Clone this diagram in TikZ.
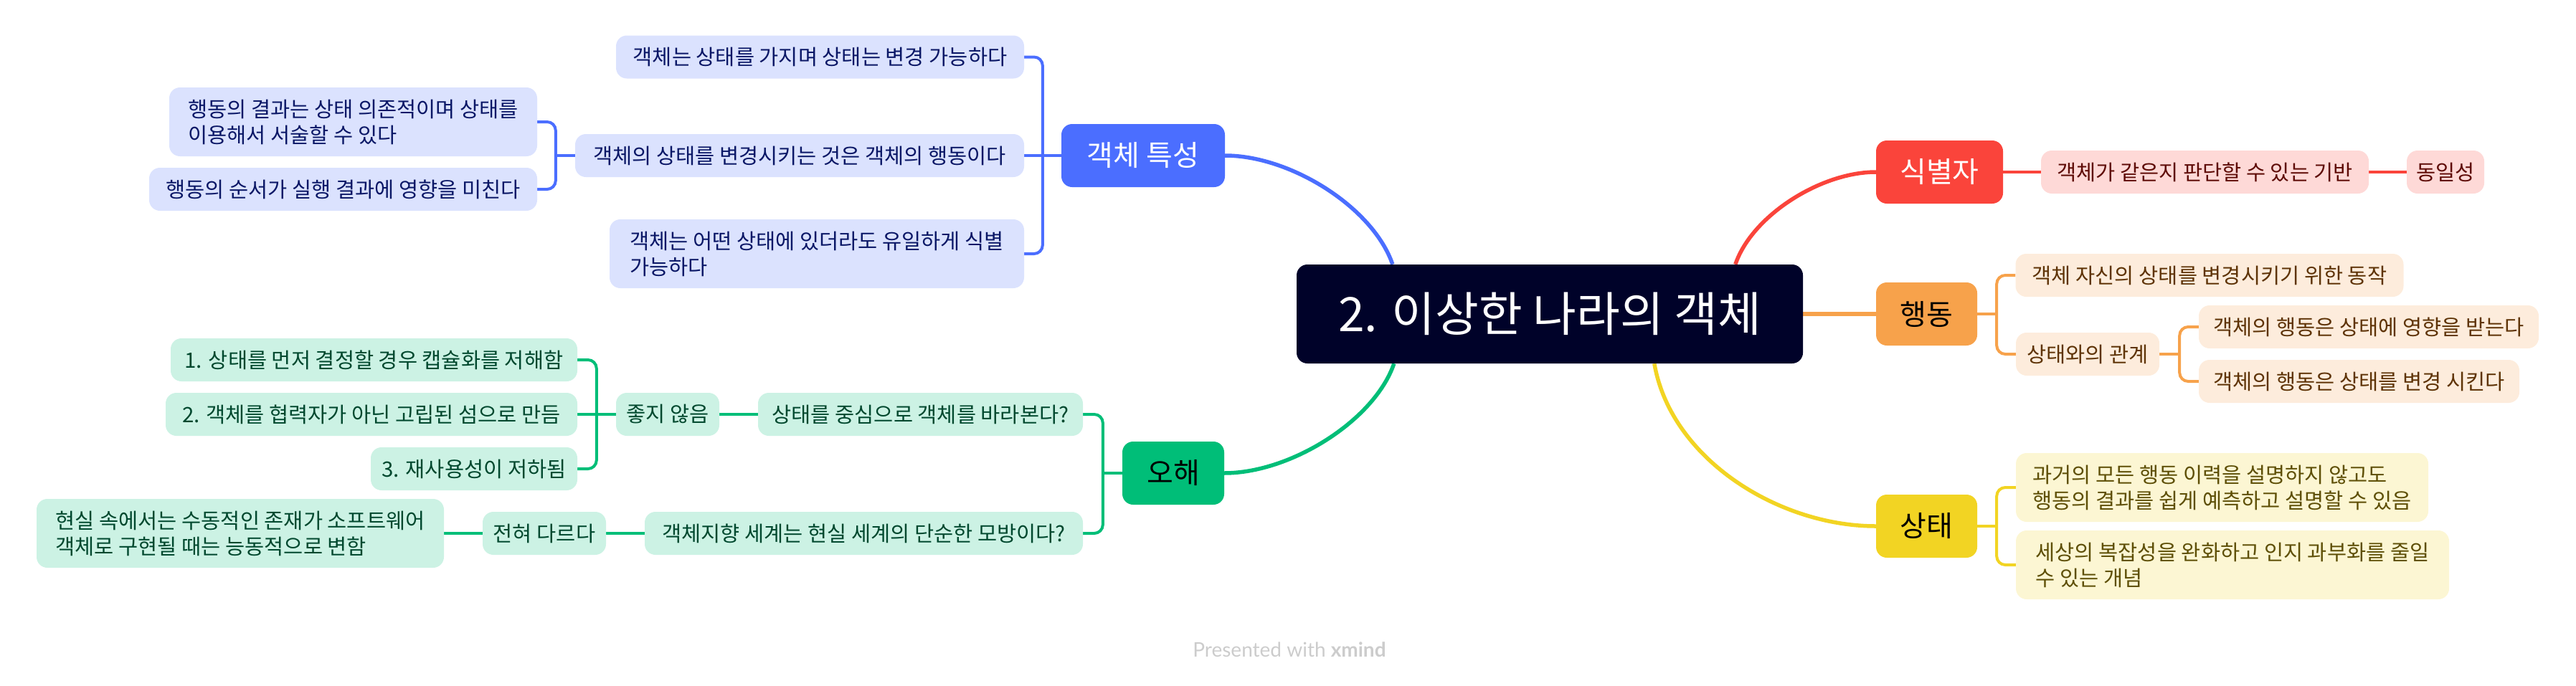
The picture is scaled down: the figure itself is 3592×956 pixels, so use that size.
\documentclass[tikz,border=0pt]{standalone}
\usepackage{fontspec}
\setmainfont{Noto Sans CJK KR}
\newfontfamily\footfont{Lato}
\usetikzlibrary{backgrounds,calc}
\definecolor{cnav}{HTML}{000229}
\definecolor{bmain}{HTML}{4B6EFF}
\definecolor{bsub}{HTML}{DBE2FE}
\definecolor{btxt}{HTML}{0A1766}
\definecolor{rmain}{HTML}{FA443B}
\definecolor{rsub}{HTML}{FED9D7}
\definecolor{rtxt}{HTML}{5E0B06}
\definecolor{omain}{HTML}{F7A24B}
\definecolor{osub}{HTML}{FDECDC}
\definecolor{otxt}{HTML}{5E3306}
\definecolor{ymain}{HTML}{F2D423}
\definecolor{ysub}{HTML}{FCF6D3}
\definecolor{ytxt}{HTML}{5E4F06}
\definecolor{gmain}{HTML}{00BE78}
\definecolor{gsub}{HTML}{CCF2E4}
\definecolor{gtxt}{HTML}{00482E}
\definecolor{footgray}{HTML}{CCCCCC}
\begin{document}
\begin{tikzpicture}[x=1pt,y=-1pt,
  box/.style={rounded corners=15pt, inner sep=0pt, align=left},
  leaf/.style={box, minimum height=60pt, font=\fontsize{29.5}{36}\selectfont},
  leaftwo/.style={leaf, minimum height=96pt},
  topic/.style={box, minimum height=88pt, font=\fontsize{40}{46}\selectfont},
  bleaf/.style={fill=bsub, text=btxt},
  rleaf/.style={fill=rsub, text=rtxt},
  oleaf/.style={fill=osub, text=otxt},
  yleaf/.style={fill=ysub, text=ytxt},
  gleaf/.style={fill=gsub, text=gtxt},
  curve/.style={line width=5.5pt},
  elbow/.style={line width=4pt, rounded corners=12pt},
]
\useasboundingbox (0,0) rectangle (3592,956);

% central
\node[box, fill=cnav, text=white, minimum width=706pt, minimum height=138pt,
      font=\fontsize{66}{74}\selectfont] (C) at (2161,438) {2. 이상한 나라의 객체};

% main topics
\node[topic, fill=bmain, text=white, minimum width=228pt] (T1) at (1594,217) {객체 특성};
\node[topic, fill=rmain, text=white, minimum width=177pt] (T2) at (2704.5,240) {식별자};
\node[topic, fill=omain, text=black, minimum width=141pt] (T3) at (2686.5,438) {행동};
\node[topic, fill=ymain, text=black, minimum width=141pt] (T4) at (2686.5,734) {상태};
\node[topic, fill=gmain, text=black, minimum width=142pt] (T5) at (1636,660) {오해};

% blue
\node[leaf, bleaf, minimum width=569pt] (b1) at (1143.5,79.5) {객체는 상태를 가지며 상태는 변경 가능하다};
\node[leaf, bleaf, minimum width=626pt] (b2) at (1115,217) {객체의 상태를 변경시키는 것은 객체의 행동이다};
\node[leaftwo, bleaf, minimum width=513pt] (b21) at (492.5,170) {행동의 결과는 상태 의존적이며 상태를\\이용해서 서술할 수 있다};
\node[leaf, bleaf, minimum width=541pt] (b22) at (478.5,264) {행동의 순서가 실행 결과에 영향을 미친다};
\node[leaftwo, bleaf, minimum width=578pt] (b3) at (1139,354) {객체는 어떤 상태에 있더라도 유일하게 식별\\가능하다};

% red
\node[leaf, rleaf, minimum width=457pt] (r1) at (3074.5,240) {객체가 같은지 판단할 수 있는 기반};
\node[leaf, rleaf, minimum width=108pt] (r11) at (3410,240) {동일성};

% orange
\node[leaf, oleaf, minimum width=541pt] (o1) at (3081,384) {객체 자신의 상태를 변경시키기 위한 동작};
\node[leaf, oleaf, minimum width=200pt] (o2) at (2911,494) {상태와의 관계};
\node[leaf, oleaf, minimum width=474pt] (o21) at (3303,456) {객체의 행동은 상태에 영향을 받는다};
\node[leaf, oleaf, minimum width=447pt] (o22) at (3289.5,532) {객체의 행동은 상태를 변경 시킨다};

% yellow
\node[leaftwo, yleaf, minimum width=575pt] (y1) at (3098.5,680) {과거의 모든 행동 이력을 설명하지 않고도\\행동의 결과를 쉽게 예측하고 설명할 수 있음};
\node[leaftwo, yleaf, minimum width=604pt] (y2) at (3113,788) {세상의 복잡성을 완화하고 인지 과부화를 줄일\\수 있는 개념};

% green
\node[leaf, gleaf, minimum width=453pt] (g1) at (1283.5,578) {상태를 중심으로 객체를 바라본다?};
\node[leaf, gleaf, minimum width=144pt] (g11) at (931,578) {좋지 않음};
\node[leaf, gleaf, minimum width=567pt] (g111) at (521.5,502) {1. 상태를 먼저 결정할 경우 캡슐화를 저해함};
\node[leaf, gleaf, minimum width=574pt] (g112) at (518,578) {2. 객체를 협력자가 아닌 고립된 섬으로 만듬};
\node[leaf, gleaf, minimum width=288pt] (g113) at (661,654) {3. 재사용성이 저하됨};
\node[leaf, gleaf, minimum width=611pt] (g2) at (1204.5,744) {객체지향 세계는 현실 세계의 단순한 모방이다?};
\node[leaf, gleaf, minimum width=172pt] (g21) at (759,744) {전혀 다르다};
\node[leaftwo, gleaf, minimum width=568pt] (g211) at (335,744) {현실 속에서는 수동적인 존재가 소프트웨어\\객체로 구현될 때는 능동적으로 변함};

% footer
\node[font=\footfont\fontsize{28}{32}\selectfont, text=footgray, inner sep=0pt] (foot) at (1798,906) {Presented with \textbf{xmind}};

\begin{scope}[on background layer]
% main curves
\draw[curve, bmain] ($(C.north west)+(134,0)$) .. controls +(-27,-79) and +(92,0) .. (T1.east);
\draw[curve, rmain] ($(C.north west)+(612,0)$) .. controls +(23,-68) and +(-77,0) .. (T2.west);
\draw[curve, omain] (C.east) -- (T3.west);
\draw[curve, ymain] ($(C.south west)+(499,0)$) .. controls +(23,133) and +(-136,0) .. (T4.west);
\draw[curve, gmain] ($(C.south west)+(136,0)$) .. controls +(-27,79) and +(93,0) .. (T5.east);

% blue elbows
\coordinate (jB) at ($(T1.west)+(-26,0)$);
\draw[elbow, bmain] (T1.west) -- (jB);
\draw[elbow, bmain] (b1.east) -| (jB) |- (b3.east);
\draw[elbow, bmain] (b2.east) -- (b2.east -| jB);
\coordinate (jB2) at ($(b2.west)+(-27,0)$);
\draw[elbow, bmain] (b2.west) -- (jB2);
\draw[elbow, bmain] (b21.east) -| (jB2) |- (b22.east);

% red
\draw[elbow, rmain] (T2.east) -- (r1.west);
\draw[elbow, rmain] (r1.east) -- (r11.west);

% orange
\coordinate (jO) at ($(T3.east)+(27,0)$);
\draw[elbow, omain] (T3.east) -- (jO);
\draw[elbow, omain] (o1.west) -| (jO) |- (o2.west);
\coordinate (jO2) at ($(o2.east)+(28,0)$);
\draw[elbow, omain] (o2.east) -- (jO2);
\draw[elbow, omain] (o21.west) -| (jO2) |- (o22.west);

% yellow
\coordinate (jY) at ($(T4.east)+(27,0)$);
\draw[elbow, ymain] (T4.east) -- (jY);
\draw[elbow, ymain] (y1.west) -| (jY) |- (y2.west);

% green
\coordinate (jG) at ($(T5.west)+(-27,0)$);
\draw[elbow, gmain] (T5.west) -- (jG);
\draw[elbow, gmain] (g1.east) -| (jG) |- (g2.east);
\draw[elbow, gmain] (g1.west) -- (g11.east);
\coordinate (jG11) at ($(g11.west)+(-27,0)$);
\draw[elbow, gmain] (g11.west) -- (jG11);
\draw[elbow, gmain] (g111.east) -| (jG11) |- (g113.east);
\draw[elbow, gmain] (g112.east) -- (g112.east -| jG11);
\draw[elbow, gmain] (g2.west) -- (g21.east);
\draw[elbow, gmain] (g21.west) -- (g211.east);
\end{scope}
\end{tikzpicture}
\end{document}
